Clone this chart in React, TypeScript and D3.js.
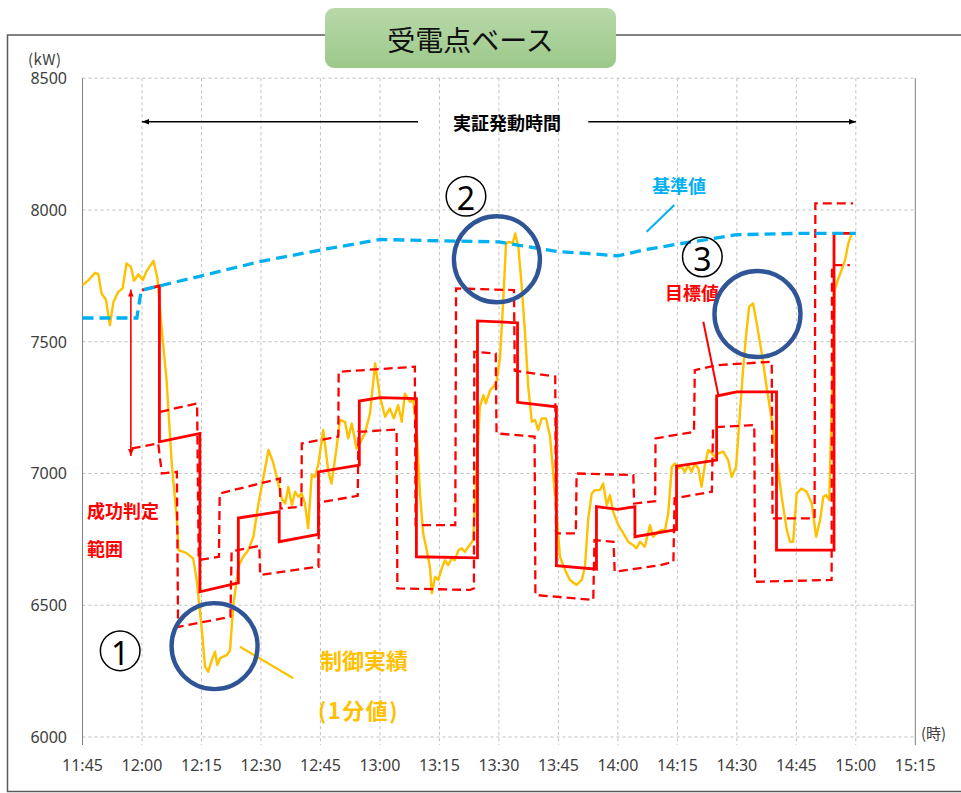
import React from "react";
import * as d3 from "d3";

// ---- tick labels ----
const timeLabels = ["11:45","12:00","12:15","12:30","12:45","13:00","13:15","13:30","13:45","14:00","14:15","14:30","14:45","15:00","15:15"];
const yTicks = [6000, 6500, 7000, 7500, 8000, 8500];

// ---- series: [minutes after 11:45, kW] ----
const actual: [number, number][] = [
  [0,7715],[1.5,7734],[3.2,7761],[4,7756],[4.8,7683],[5.9,7660],[6.9,7563],[7.8,7651],[9,7689],[10.1,7702],
  [11.1,7797],[12.2,7784],[13,7731],[14.1,7756],[15.2,7734],[16.2,7769],[17.9,7807],[18.9,7740],[20,7544],
  [21.2,7354],[22.5,7038],[23.8,6823],[24.2,6709],[25.4,6703],[26.3,6697],[27.9,6678],[28.8,6596],[30.1,6406],
  [30.9,6267],[31.7,6248],[32.6,6292],[33.4,6324],[34,6273],[34.7,6299],[35.5,6305],[36.4,6311],[37.2,6330],
  [38,6494],[39.3,6646],[40.5,6684],[41.8,6709],[43.1,6760],[44.3,6880],[45.3,6960],[46.9,7089],[48.1,7040],
  [49.4,6960],[50.2,6906],[51.1,6886],[51.9,6949],[52.8,6880],[53.6,6931],[54.4,6912],[55.3,6924],[56.1,6886],
  [56.9,6792],[57.8,6994],[58.6,6987],[59.5,7038],[60.7,7165],[62,7006],[62.8,6962],[64.1,7101],[64.9,7203],
  [66.2,7196],[67,7133],[67.9,7190],[69.1,7095],[70.4,7127],[71.2,7152],[72.5,7228],[73.8,7418],[75,7291],
  [76.3,7215],[77.5,7247],[78.5,7209],[79.6,7259],[80.5,7196],[81.3,7303],[82.6,7272],[83.4,7278],[84.3,7152],
  [85.1,6924],[85.9,6773],[86.8,6709],[87.6,6646],[88.1,6545],[88.9,6608],[89.7,6596],[90.6,6640],[91.4,6671],
  [92.2,6652],[93.1,6678],[93.9,6671],[94.8,6709],[95.6,6716],[96.4,6703],[97.3,6722],[98.5,6747],[99.4,7025],
  [100.2,7253],[101.1,7297],[101.7,7266],[102.8,7316],[103.6,7329],[104.4,7348],[105.3,7443],[106.1,7658],
  [106.8,7873],[107.6,7879],[108.5,7873],[109.1,7911],[109.9,7860],[110.7,7721],[111.6,7531],[112.4,7329],
  [113.3,7196],[114.1,7203],[114.9,7165],[115.8,7209],[116.9,7209],[117.9,7139],[118.7,7000],[119.6,6836],
  [120.4,6684],[121.7,6633],[122.9,6596],[124.6,6577],[125.9,6596],[126.7,6646],[127.5,6823],[128.4,6924],
  [129.2,6937],[130.5,6937],[131.3,6962],[132.2,6880],[133,6918],[133.8,6855],[135.1,6804],[136.4,6773],
  [137.6,6741],[138.9,6728],[139.7,6716],[140.6,6741],[141.8,6722],[143.1,6804],[143.9,6760],[145.2,6779],
  [146,6785],[146.9,6785],[147.7,6849],[148.6,7025],[149.4,7038],[150.2,7019],[151.1,7025],[151.9,7006],
  [152.7,7032],[153.6,7006],[154.4,7038],[155.3,7019],[156.1,6949],[157,7038],[157.8,7089],[158.7,7076],
  [159.5,7063],[160.3,7076],[161.6,7083],[162.8,7051],[163.7,6987],[164.8,7025],[165.6,7190],[166.5,7380],
  [167.3,7519],[168.1,7633],[169.1,7645],[170,7570],[171.3,7455],[172.5,7329],[173.8,7203],[175,7063],
  [176.3,6912],[177.6,6785],[178.4,6741],[179.2,6741],[180.1,6924],[181.3,6943],[182.6,6931],[183.9,6886],
  [185,6760],[186,6823],[186.8,6912],[187.5,6918],[188.3,6899],[189.7,7696],[190.6,7740],[191.4,7772],
  [192.3,7810],[193.1,7873],[194,7911]
];

const baseline: [number, number][] = [
  [0,7590],[13.7,7590],[14.8,7695],[30,7750],[45,7805],[60,7848],[75,7888],[90,7883],[105,7879],
  [110,7866],[120,7842],[127,7835],[135,7826],[142,7850],[150,7870],[159,7892],[165,7906],[180,7911],[195,7911]
];

const target: [number, number][] = [
  [15,7696],[19.4,7712],[19.4,7120],[29.6,7152],[29.6,6551],[39.3,6585],[39.3,6831],[49.6,6855],
  [49.6,6741],[59.5,6769],[59.5,7006],[69.8,7032],[69.8,7275],[75,7288],[84.2,7284],[84.2,6684],
  [99.6,6680],[99.6,7579],[109.7,7572],[109.7,7270],[119.5,7253],[119.5,6650],[129.6,6637],
  [129.6,6874],[135,6864],[139.3,6874],[139.3,6760],[149.8,6787],[149.8,7028],[159.9,7051],
  [159.9,7294],[165,7310],[175,7310],[175,6709],[189.5,6709],[189.5,7911],[194.3,7911]
];

const upperBound: [number, number][] = [
  [19.6,7234],[28.9,7266],[29.3,6671],[34.4,6684],[34.6,6924],[49.8,6981],[49.9,6867],[55.2,6874],
  [55.3,7114],[64.5,7140],[64.6,7386],[83.8,7405],[84,6804],[94,6804],[94.2,7702],[108.8,7696],
  [109,7390],[119.2,7368],[119.4,6773],[124.4,6773],[124.6,7000],[138.9,6994],[139.1,6886],
  [144.4,6895],[144.5,7133],[154.2,7158],[154.4,7392],[159.9,7411],[173.8,7424],[174,6830],
  [184.6,6830],[184.8,8025],[194.3,8025]
];

const lowerBound: [number, number][] = [
  [12.4,7095],[19.1,7114],[20,7000],[23.8,7006],[24.1,6418],[37.3,6456],[37.6,6705],[44.6,6725],
  [44.8,6615],[59,6646],[59.5,6646],[59.6,6890],[69.4,6915],[69.6,7158],[79.2,7167],[79.4,6564],
  [97.7,6558],[98.7,6564],[98.8,7462],[104.2,7455],[104.4,7152],[114,7140],[114.2,6539],[128.8,6520],
  [129.1,6747],[133.9,6741],[134.2,6627],[145.6,6652],[149,6665],[149.3,6906],[158.7,6931],
  [159,7175],[169.4,7184],[169.6,6589],[188.9,6596],[189,7791],[193.5,7791]
];

// annotation anchors [minutes, kW]
const markerCircles: [number, number][] = [[33.3,6345],[104.5,7813],[170.2,7605]];
const circledNums: { label: string; at: [number, number] }[] = [
  { label: "1", at: [9.5, 6327] },
  { label: "2", at: [96.7, 8052] },
  { label: "3", at: [156.3, 7822] },
];

const W = 961, H = 793;
const x = d3.scaleLinear().domain([0, 210]).range([82.5, 915.3]);
const y = d3.scaleLinear().domain([6000, 8500]).range([737, 78.2]);

const line = d3.line<[number, number]>().x(d => x(d[0])).y(d => y(d[1]));

const RED = "#FF0000";
const ORANGE = "#FFC000";
const BLUE = "#00B0F0";
const NAVY = "#2F5597";
const GRID = "#BFBFBF";
const AXIS_TXT = "#404040";
const JP = "'Noto Sans CJK JP', 'Noto Sans', sans-serif";
const LAT = "'Noto Sans', 'Noto Sans CJK JP', sans-serif";

export default function App() {
  const x0 = x(0), x1 = x(210), yTop = y(8500), yBot = y(6000);
  return (
    <svg width={W} height={H} style={{ position: "absolute", left: 0, top: 0, background: "#fff" }}>
      <defs>
        <linearGradient id="titleGrad" x1="0" y1="0" x2="0" y2="1">
          <stop offset="0%" stopColor="#B8D9A9" />
          <stop offset="100%" stopColor="#9CC88A" />
        </linearGradient>
        <marker id="arrBlack" viewBox="0 0 10 10" refX="10" refY="5" markerWidth="7" markerHeight="7" orient="auto-start-reverse" markerUnits="userSpaceOnUse">
          <path d="M0,1 L10,5 L0,9 z" fill="#000" />
        </marker>
        <marker id="arrRed" viewBox="0 0 10 10" refX="10" refY="5" markerWidth="7" markerHeight="8" orient="auto-start-reverse" markerUnits="userSpaceOnUse">
          <path d="M0,1 L10,5 L0,9 z" fill={RED} />
        </marker>
      </defs>

      {/* outer frame */}
      <rect x={7.5} y={35} width={970} height={756.5} fill="none" stroke="#5A5A5A" strokeWidth={1.5} />

      {/* title */}
      <rect x={325} y={8} width={291} height={60} rx={9} fill="url(#titleGrad)" />
      <text x={470.5} y={39} textAnchor="middle" dominantBaseline="central" fontFamily={JP} fontSize={28} fill="#111">受電点ベース</text>

      {/* grid */}
      {yTicks.map(v => (
        <line key={"h" + v} x1={x0} x2={x1} y1={y(v)} y2={y(v)} stroke={GRID} strokeWidth={1} strokeDasharray="3,3" />
      ))}
      {timeLabels.map((t, i) => {
        const xx = x(i * 15);
        const edge = i === 0 || i === timeLabels.length - 1;
        return (
          <line key={"v" + t} x1={xx} x2={xx} y1={yTop} y2={yBot + 8}
            stroke={edge ? "#7F7F7F" : GRID} strokeWidth={1} strokeDasharray={edge ? undefined : "3,3"} />
        );
      })}

      {/* axis labels */}
      {yTicks.map(v => (
        <text key={"yl" + v} x={67} y={y(v)} textAnchor="end" dominantBaseline="central" fontFamily={LAT} fontSize={16} fill={AXIS_TXT}>{v}</text>
      ))}
      {timeLabels.map((t, i) => (
        <text key={"xl" + t} x={x(i * 15)} y={771} textAnchor="middle" fontFamily={LAT} fontSize={16} fill={AXIS_TXT}>{t}</text>
      ))}
      <text x={28} y={65} fontFamily={JP} fontSize={15} letterSpacing={0.5} fill={AXIS_TXT}>(kW)</text>
      <text x={921} y={739} fontFamily={JP} fontSize={15} fill={AXIS_TXT}>(時)</text>

      {/* series */}
      <path d={line(actual) ?? ""} fill="none" stroke={ORANGE} strokeWidth={2.4} strokeLinejoin="round" />
      <path d={line(upperBound) ?? ""} fill="none" stroke={RED} strokeWidth={2.3} strokeDasharray="9,5" />
      <path d={line(lowerBound) ?? ""} fill="none" stroke={RED} strokeWidth={2.3} strokeDasharray="9,5" />
      <path d={line(target) ?? ""} fill="none" stroke={RED} strokeWidth={2.8} strokeLinejoin="miter" />
      <path d={line(baseline) ?? ""} fill="none" stroke={BLUE} strokeWidth={3.3} strokeDasharray="11,6" />

      {/* 実証発動時間 arrows */}
      <path d={`M${418},121.7 L${x(15)},121.7`} stroke="#000" strokeWidth={1.5} markerEnd="url(#arrBlack)" />
      <path d={`M${588.3},121.7 L${x(195)},121.7`} stroke="#000" strokeWidth={1.5} markerEnd="url(#arrBlack)" />
      <text x={507} y={121.7} textAnchor="middle" dominantBaseline="central" fontFamily={JP} fontWeight={700} fontSize={18} fill="#000">実証発動時間</text>

      {/* success range arrow */}
      <path d={`M${x(12.2)},${y(7698)} L${x(12.2)},${y(7066)}`} stroke={RED} strokeWidth={1.6} markerStart="url(#arrRed)" markerEnd="url(#arrRed)" />
      <text x={87} y={510} dominantBaseline="central" fontFamily={JP} fontWeight={700} fontSize={18} fill={RED}>成功判定</text>
      <text x={87} y={548} dominantBaseline="central" fontFamily={JP} fontWeight={700} fontSize={18} fill={RED}>範囲</text>

      {/* 基準値 label */}
      <line x1={674.3} y1={205} x2={646.7} y2={231.7} stroke={BLUE} strokeWidth={2} />
      <text x={679} y={185} textAnchor="middle" dominantBaseline="central" fontFamily={JP} fontWeight={700} fontSize={18} fill={BLUE}>基準値</text>

      {/* 目標値 label */}
      <line x1={703.3} y1={321.7} x2={718.3} y2={395} stroke={RED} strokeWidth={2} />
      <text x={692} y={292} textAnchor="middle" dominantBaseline="central" fontFamily={JP} fontWeight={700} fontSize={18} fill={RED}>目標値</text>

      {/* 制御実績 label */}
      <line x1={240} y1={646.7} x2={293.3} y2={678.3} stroke={ORANGE} strokeWidth={2.2} />
      <text x={320} y={659} dominantBaseline="central" fontFamily={JP} fontWeight={700} fontSize={22} fill={ORANGE}>制御実績</text>
      <text x={318} y={709} dominantBaseline="central" fontFamily={JP} fontWeight={700} fontSize={22} letterSpacing={1.5} fill={ORANGE}>(1分値)</text>

      {/* circled numbers */}
      {circledNums.map(c => (
        <g key={c.label} transform={`translate(${x(c.at[0])},${y(c.at[1])})`}>
          <circle r={19.8} fill="none" stroke="#000" strokeWidth={1.5} />
          <text x={0} y={1.5} textAnchor="middle" dominantBaseline="central" fontFamily={LAT} fontSize={32} fill="#000">{c.label}</text>
        </g>
      ))}

      {/* highlight circles */}
      {markerCircles.map((c, i) => (
        <circle key={"c" + i} cx={x(c[0])} cy={y(c[1])} r={43} fill="none" stroke={NAVY} strokeWidth={4.4} />
      ))}
    </svg>
  );
}
